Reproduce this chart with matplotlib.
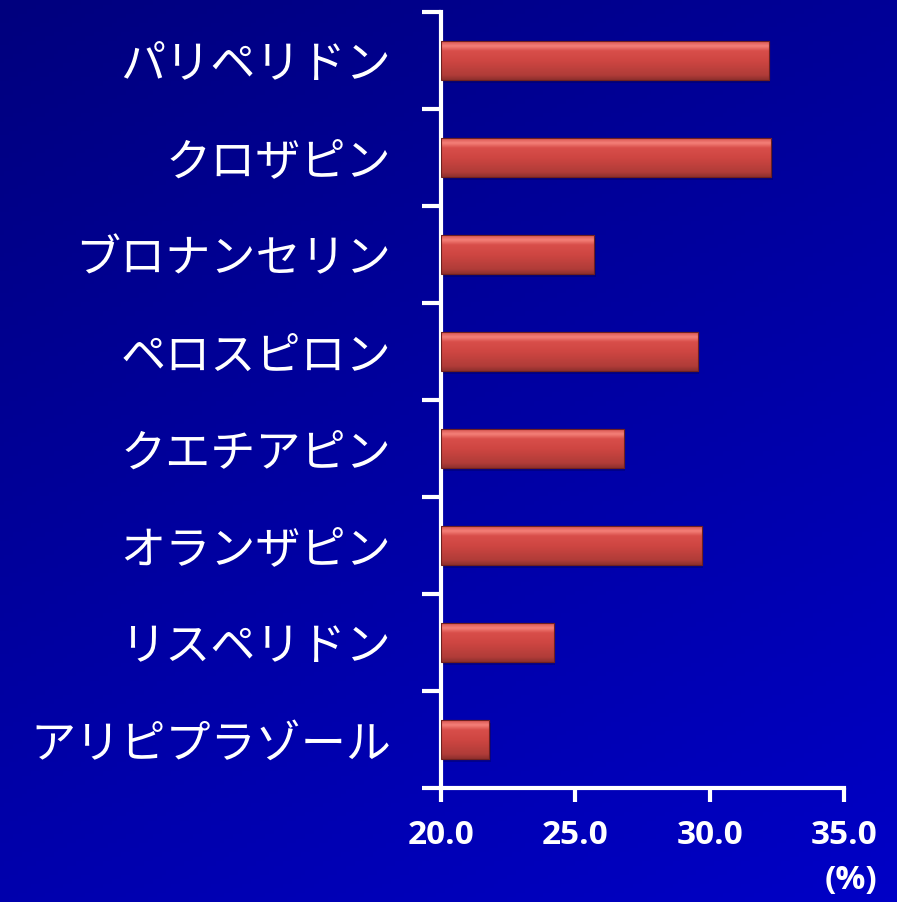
import numpy as np
import matplotlib
matplotlib.use('Agg')
import matplotlib.pyplot as plt
from matplotlib.colors import LinearSegmentedColormap

# données (de bas en haut)
drugs = ['アリピプラゾール', 'リスペリドン', 'オランザピン', 'クエチアピン',
         'ペロスピロン', 'ブロナンセリン', 'クロザピン', 'パリペリドン']
values = [21.8, 24.2, 29.7, 26.8, 29.55, 25.7, 32.3, 32.2]
xticks = [20.0, 25.0, 30.0, 35.0]
xlabels = ['20.0', '25.0', '30.0', '35.0']

plt.rcParams['font.family'] = ['Noto Sans CJK JP', 'DejaVu Sans']

fig = plt.figure(figsize=(8.97, 9.02), dpi=100)

# fond dégradé bleu
bg = fig.add_axes([0, 0, 1, 1], zorder=-10)
yy, xx = np.mgrid[0:1:200j, 0:1:200j]
t = 0.65 * yy + 0.35 * xx
bg_cmap = LinearSegmentedColormap.from_list('bg', ['#00007e', '#0000c6'])
bg.imshow(t, cmap=bg_cmap, aspect='auto', extent=[0, 1, 1, 0])
bg.axis('off')

ax = fig.add_axes([0.4916, 0.1264, 0.4493, 0.8603])
ax.set_facecolor('none')

x0 = xticks[0]
ypos = np.arange(len(drugs))
h = 0.4
bar_cmap = LinearSegmentedColormap.from_list(
    'bar', [(0, '#8e302e'), (0.12, '#b03c38'), (0.5, '#cf4642'),
            (0.75, '#d84e4a'), (0.88, '#f48078'), (1, '#d85450')])
grad = np.linspace(0, 1, 100).reshape(-1, 1)

for y, v in zip(ypos, values):
    # ombre
    ax.barh(y - 0.03, v - x0, left=x0 + 0.06, height=h, color='#000050',
            alpha=0.35, zorder=1, linewidth=0)
    b = ax.barh(y, v - x0, left=x0, height=h, color='#c8423e',
                edgecolor='#6e2020', linewidth=0.8, zorder=2)[0]
    im = ax.imshow(grad, cmap=bar_cmap, aspect='auto', origin='lower',
                   extent=[x0, v, y - h / 2, y + h / 2], zorder=3)
    im.set_clip_path(b)
    ax.barh(y, v - x0, left=x0, height=h, color='none',
            edgecolor='#6e2020', linewidth=0.8, zorder=4)

ax.set_xlim(xticks[0], xticks[-1])
ax.set_ylim(-0.5, len(drugs) - 0.5)

for s in ['top', 'right']:
    ax.spines[s].set_visible(False)
for s in ['left', 'bottom']:
    ax.spines[s].set_color('white')
    ax.spines[s].set_linewidth(3)

ax.set_xticks(xticks)
ax.set_xticklabels(xlabels, fontsize=24, fontweight='bold', color='white',
                   family=['Open Sans', 'DejaVu Sans'])
ax.tick_params(axis='x', colors='white', length=10, width=3, pad=12)

ax.set_yticks(np.arange(len(drugs) + 1) - 0.5)
ax.set_yticklabels([])
ax.tick_params(axis='y', which='major', colors='white', length=14, width=3)
ax.set_yticks(ypos, minor=True)
ax.set_yticklabels(drugs, minor=True, fontsize=32.5, color='white')
ax.tick_params(axis='y', which='minor', length=0, pad=36)

fig.text(0.978, 0.006, '(%)', ha='right', va='bottom', fontsize=24,
         fontweight='bold', color='white', family=['Open Sans', 'DejaVu Sans'])

plt.savefig('out.png', dpi=100)
